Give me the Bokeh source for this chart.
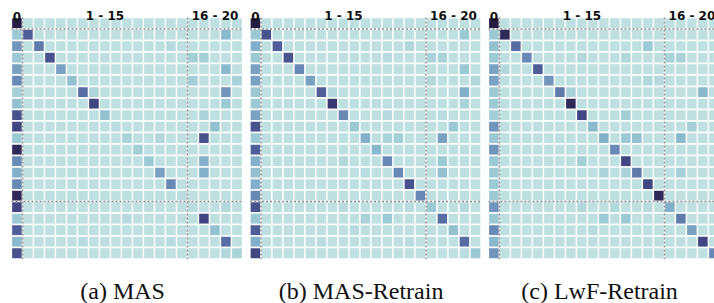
import numpy as np
from bokeh.plotting import figure
from bokeh.models import Range1d, ColumnDataSource, LinearColorMapper
from bokeh.core.properties import value
from bokeh.embed import file_html
from bokeh.resources import INLINE

N = 21
group_labels = ["0", "1 - 15", "16 - 20"]
group_starts = [0, 1, 16]
group_ends = [1, 16, 21]
captions = ["(a) MAS", "(b) MAS-Retrain", "(c) LwF-Retrain"]
BASE = 0.05

# ---- panel (a) MAS ----
diag_a = [1.0, 0.75, 0.65, 0.8, 0.5, 0.35, 0.7, 0.85, 0.35, 0.08, 0.2, 0.25, 0.3, 0.5, 0.6, 0.1,
          0.1, 0.85, 0.35, 0.7, 0.2]
col0_a = [1.0, 0.3, 0.55, 0.3, 0.5, 0.6, 0.25, 0.35, 0.8, 0.85, 0.3, 0.95, 0.6, 0.45, 0.6, 0.95,
          0.85, 0.3, 0.75, 0.4, 0.8]
extra_a = [(1, 19, 0.4), (2, 14, 0.12), (3, 16, 0.25), (3, 17, 0.25), (4, 19, 0.4), (5, 16, 0.25),
           (5, 20, 0.22), (6, 7, 0.18), (6, 19, 0.55), (7, 19, 0.3), (8, 17, 0.2), (9, 18, 0.35),
           (10, 13, 0.15), (10, 17, 0.8), (12, 17, 0.45), (13, 17, 0.45), (16, 19, 0.15),
           (17, 10, 0.12), (19, 6, 0.1), (19, 14, 0.1), (20, 19, 0.15)]

# ---- panel (b) MAS-Retrain ----
diag_b = [1.0, 0.8, 0.75, 0.8, 0.6, 0.5, 0.75, 0.9, 0.6, 0.3, 0.45, 0.4, 0.6, 0.6, 0.8, 0.6,
          0.3, 0.7, 0.35, 0.7, 0.3]
col0_b = [1.0, 0.3, 0.45, 0.3, 0.5, 0.5, 0.3, 0.3, 0.5, 0.8, 0.3, 0.75, 0.45, 0.35, 0.45, 0.6,
          0.8, 0.3, 0.75, 0.45, 0.85]
extra_b = [(1, 19, 0.3), (2, 14, 0.15), (3, 12, 0.1), (3, 16, 0.2), (3, 17, 0.2), (4, 19, 0.3),
           (5, 16, 0.15), (5, 20, 0.15), (6, 7, 0.15), (6, 19, 0.45), (7, 19, 0.2), (8, 12, 0.12),
           (8, 17, 0.1), (9, 18, 0.3), (10, 12, 0.2), (10, 13, 0.25), (10, 17, 0.5), (12, 8, 0.15),
           (12, 17, 0.3), (13, 10, 0.1), (13, 17, 0.35), (16, 8, 0.1), (16, 14, 0.1),
           (16, 19, 0.12), (17, 10, 0.2), (17, 12, 0.3), (18, 9, 0.1), (19, 6, 0.1),
           (19, 14, 0.1), (20, 19, 0.1)]

# ---- panel (c) LwF-Retrain ----
diag_c = [1.0, 0.95, 0.7, 0.6, 0.75, 0.55, 0.65, 0.95, 0.85, 0.4, 0.45, 0.6, 0.85, 0.65, 0.85, 0.95,
          0.45, 0.65, 0.5, 0.85, 0.6]
col0_c = [1.0, 0.3, 0.35, 0.3, 0.5, 0.5, 0.3, 0.3, 0.25, 0.55, 0.3, 0.55, 0.3, 0.3, 0.3, 0.3,
          0.55, 0.3, 0.6, 0.4, 0.55]
extra_c = [(2, 14, 0.3), (3, 8, 0.15), (3, 12, 0.15), (3, 16, 0.2), (3, 17, 0.2), (4, 1, 0.15),
           (5, 14, 0.15), (5, 15, 0.12), (6, 7, 0.2), (6, 19, 0.4), (8, 12, 0.25), (9, 18, 0.25),
           (10, 12, 0.3), (10, 13, 0.35), (10, 17, 0.4), (12, 8, 0.25), (13, 10, 0.2),
           (13, 12, 0.2), (13, 17, 0.25), (16, 8, 0.15), (16, 11, 0.15), (16, 14, 0.1),
           (17, 10, 0.3), (17, 12, 0.3), (18, 9, 0.1)]

panels = [(diag_a, col0_a, extra_a), (diag_b, col0_b, extra_b), (diag_c, col0_c, extra_c)]

# colour map (light cyan -> dark indigo)
stops_t = [0.0, 0.15, 0.3, 0.45, 0.6, 0.75, 0.88, 1.0]
stops_c = ["#c3e3e4", "#b2d8dc", "#9bcad4", "#82afc9", "#6888b5", "#4f5f99", "#3d3f7c", "#261b42"]


def hex2rgb(h):
    return [int(h[i:i + 2], 16) for i in (1, 3, 5)]


rgb = np.array([hex2rgb(c) for c in stops_c], dtype=float)
tt = np.linspace(0, 1, 256)
pal = []
for t in tt:
    r = np.interp(t, stops_t, rgb[:, 0])
    g = np.interp(t, stops_t, rgb[:, 1])
    b = np.interp(t, stops_t, rgb[:, 2])
    pal.append("#%02x%02x%02x" % (int(round(r)), int(round(g)), int(round(b))))
mapper = LinearColorMapper(palette=pal, low=0.0, high=1.0)

PANEL_STEP = 21.68

xs, ys, vs = [], [], []
for k, (diag, col0, extra) in enumerate(panels):
    M = np.full((N, N), BASE)
    for i in range(N):
        M[i, 0] = col0[i]
        M[i, i] = diag[i]
    for (r, c, v) in extra:
        M[r, c] = v
    for i in range(N):
        for j in range(N):
            xs.append(k * PANEL_STEP + j + 0.5)
            ys.append(i + 0.5)
            vs.append(M[i, j])

src = ColumnDataSource(dict(x=xs, y=ys, v=vs))

p = figure(width=714, height=303, output_backend="svg", toolbar_location=None,
           x_range=Range1d(-1.0, 63.91), y_range=Range1d(24.87, -1.478),
           min_border=0, outline_line_color=None)
p.axis.visible = False
p.grid.visible = False
p.background_fill_color = "white"

p.rect(x="x", y="y", width=1, height=1, source=src,
       fill_color={"field": "v", "transform": mapper},
       line_color="white", line_width=1.3)

# group separators
sx0, sy0, sx1, sy1 = [], [], [], []
for k in range(3):
    off = k * PANEL_STEP
    for b in group_starts[1:]:
        sx0 += [off + b, off]
        sy0 += [0, b]
        sx1 += [off + b, off + N]
        sy1 += [N, b]
p.segment(x0=sx0, y0=sy0, x1=sx1, y1=sy1, line_color="#8f8f8f", line_width=1.5,
          line_dash="2 2")

# group labels
lx, ly, lt = [], [], []
for k in range(3):
    off = k * PANEL_STEP
    for lab, s, e in zip(group_labels, group_starts, group_ends):
        lx.append(off + (s + e) / 2.0)
        ly.append(-0.12)
        lt.append(lab)
p.text(x=lx, y=ly, text=lt, text_font=value("DejaVu Sans"), text_font_style="bold",
       text_font_size="12px", text_align="center", text_baseline="alphabetic",
       text_color="#111111")

# captions
cx = [k * PANEL_STEP + 10.1 for k in range(3)]
cy = [23.75] * 3
p.text(x=cx, y=cy, text=captions, text_font=value("Liberation Serif"),
       text_font_size="24px", text_align="center", text_baseline="alphabetic",
       text_color="#111111")

open("out.html", "w").write(file_html(p, INLINE))
